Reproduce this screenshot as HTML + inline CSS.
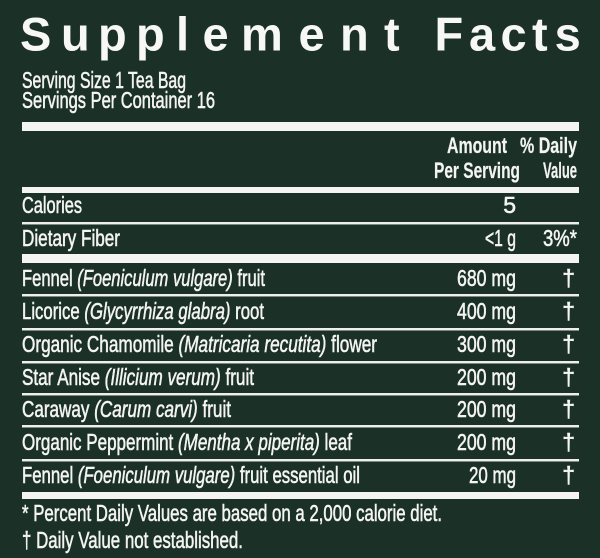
<!DOCTYPE html>
<html>
<head>
<meta charset="utf-8">
<style>
  html,body{margin:0;padding:0;background:#1b3128;}
  svg{display:block;}
  .t{font-family:"Liberation Sans",Arial,sans-serif;font-size:23px;fill:#f4f4f2;stroke:#f4f4f2;stroke-width:0.55px;}
  .b{font-family:"Liberation Sans",Arial,sans-serif;font-size:22px;font-weight:bold;fill:#f4f4f2;stroke:#f4f4f2;stroke-width:0.2px;}
  .ttl{font-family:"Liberation Sans",Arial,sans-serif;font-size:47px;font-weight:bold;fill:#f7f7f5;}
  .i{font-style:italic;}
</style>
</head>
<body>
<svg width="600" height="558" viewBox="0 0 600 558" xmlns="http://www.w3.org/2000/svg">
  <rect x="0" y="0" width="600" height="558" fill="#1b3128"/>

  <text class="ttl" y="50.5"><tspan x="20">S</tspan><tspan x="61">u</tspan><tspan x="98">p</tspan><tspan x="136">p</tspan><tspan x="176">l</tspan><tspan x="202.5">e</tspan><tspan x="241">m</tspan><tspan x="298.5">e</tspan><tspan x="340">n</tspan><tspan x="384">t</tspan><tspan x="434.5">F</tspan><tspan x="469">a</tspan><tspan x="500.5">c</tspan><tspan x="532">t</tspan><tspan x="554.6">s</tspan></text>

  <text class="t" x="22" y="88" textLength="164" lengthAdjust="spacingAndGlyphs">Serving Size 1 Tea Bag</text>
  <text class="t" x="22" y="108" textLength="193" lengthAdjust="spacingAndGlyphs">Servings Per Container 16</text>

  <rect x="22" y="122" width="557" height="9" fill="#f4f4f2"/>

  <text class="b" x="447" y="153" textLength="60" lengthAdjust="spacingAndGlyphs">Amount</text>
  <text class="b" x="520" y="153" textLength="57" lengthAdjust="spacingAndGlyphs">% Daily</text>
  <text class="b" x="434" y="178" textLength="86" lengthAdjust="spacingAndGlyphs">Per Serving</text>
  <text class="b" x="543" y="178" textLength="34" lengthAdjust="spacingAndGlyphs">Value</text>

  <rect x="22" y="187" width="557" height="6" fill="#f4f4f2"/>

  <text class="t" x="22" y="213" textLength="60" lengthAdjust="spacingAndGlyphs">Calories</text>
  <text class="t" x="516" y="213" text-anchor="end">5</text>
  <rect x="22" y="222" width="557" height="2" fill="#eeeeec"/>
  <rect x="22" y="224" width="557" height="1" fill="#7d8a84"/>

  <text class="t" x="22" y="246" textLength="98" lengthAdjust="spacingAndGlyphs">Dietary Fiber</text>
  <text class="t" x="485" y="246" textLength="31" lengthAdjust="spacingAndGlyphs">&lt;1 g</text>
  <text class="t" x="543" y="246" textLength="34" lengthAdjust="spacingAndGlyphs">3%*</text>

  <rect x="22" y="254" width="557" height="9" fill="#f4f4f2"/>

  <text class="t" x="22" y="286" textLength="243" lengthAdjust="spacingAndGlyphs">Fennel <tspan class="i">(Foeniculum vulgare)</tspan> fruit</text>
  <text class="t" x="457" y="286" textLength="59" lengthAdjust="spacingAndGlyphs">680 mg</text>
  <text class="t" x="575" y="286" text-anchor="end">†</text>
  <rect x="22" y="294" width="557" height="2" fill="#eeeeec"/>
  <rect x="22" y="296" width="557" height="1" fill="#7d8a84"/>

  <text class="t" x="22" y="319" textLength="242" lengthAdjust="spacingAndGlyphs">Licorice <tspan class="i">(Glycyrrhiza glabra)</tspan> root</text>
  <text class="t" x="457" y="319" textLength="59" lengthAdjust="spacingAndGlyphs">400 mg</text>
  <text class="t" x="575" y="319" text-anchor="end">†</text>
  <rect x="22" y="328" width="557" height="2" fill="#eeeeec"/>
  <rect x="22" y="330" width="557" height="1" fill="#7d8a84"/>

  <text class="t" x="22" y="352" textLength="355" lengthAdjust="spacingAndGlyphs">Organic Chamomile <tspan class="i">(Matricaria recutita)</tspan> flower</text>
  <text class="t" x="457" y="352" textLength="59" lengthAdjust="spacingAndGlyphs">300 mg</text>
  <text class="t" x="575" y="352" text-anchor="end">†</text>
  <rect x="22" y="361" width="557" height="2" fill="#eeeeec"/>
  <rect x="22" y="363" width="557" height="1" fill="#7d8a84"/>

  <text class="t" x="22" y="385" textLength="232" lengthAdjust="spacingAndGlyphs">Star Anise <tspan class="i">(Illicium verum)</tspan> fruit</text>
  <text class="t" x="457" y="385" textLength="59" lengthAdjust="spacingAndGlyphs">200 mg</text>
  <text class="t" x="575" y="385" text-anchor="end">†</text>
  <rect x="22" y="393" width="557" height="2" fill="#eeeeec"/>
  <rect x="22" y="395" width="557" height="1" fill="#7d8a84"/>

  <text class="t" x="22" y="417" textLength="209" lengthAdjust="spacingAndGlyphs">Caraway <tspan class="i">(Carum carvi)</tspan> fruit</text>
  <text class="t" x="457" y="417" textLength="59" lengthAdjust="spacingAndGlyphs">200 mg</text>
  <text class="t" x="575" y="417" text-anchor="end">†</text>
  <rect x="22" y="425" width="557" height="2" fill="#eeeeec"/>
  <rect x="22" y="427" width="557" height="1" fill="#7d8a84"/>

  <text class="t" x="22" y="450" textLength="330" lengthAdjust="spacingAndGlyphs">Organic Peppermint <tspan class="i">(Mentha x piperita)</tspan> leaf</text>
  <text class="t" x="457" y="450" textLength="59" lengthAdjust="spacingAndGlyphs">200 mg</text>
  <text class="t" x="575" y="450" text-anchor="end">†</text>
  <rect x="22" y="459" width="557" height="2" fill="#eeeeec"/>
  <rect x="22" y="461" width="557" height="1" fill="#7d8a84"/>

  <text class="t" x="22" y="483" textLength="338" lengthAdjust="spacingAndGlyphs">Fennel <tspan class="i">(Foeniculum vulgare)</tspan> fruit essential oil</text>
  <text class="t" x="469" y="483" textLength="47" lengthAdjust="spacingAndGlyphs">20 mg</text>
  <text class="t" x="575" y="483" text-anchor="end">†</text>

  <rect x="22" y="492" width="557" height="7" fill="#f4f4f2"/>

  <text class="t" x="22" y="521" textLength="420" lengthAdjust="spacingAndGlyphs">* Percent Daily Values are based on a 2,000 calorie diet.</text>
  <text class="t" x="22" y="548" textLength="221" lengthAdjust="spacingAndGlyphs">† Daily Value not established.</text>
</svg>
</body>
</html>
